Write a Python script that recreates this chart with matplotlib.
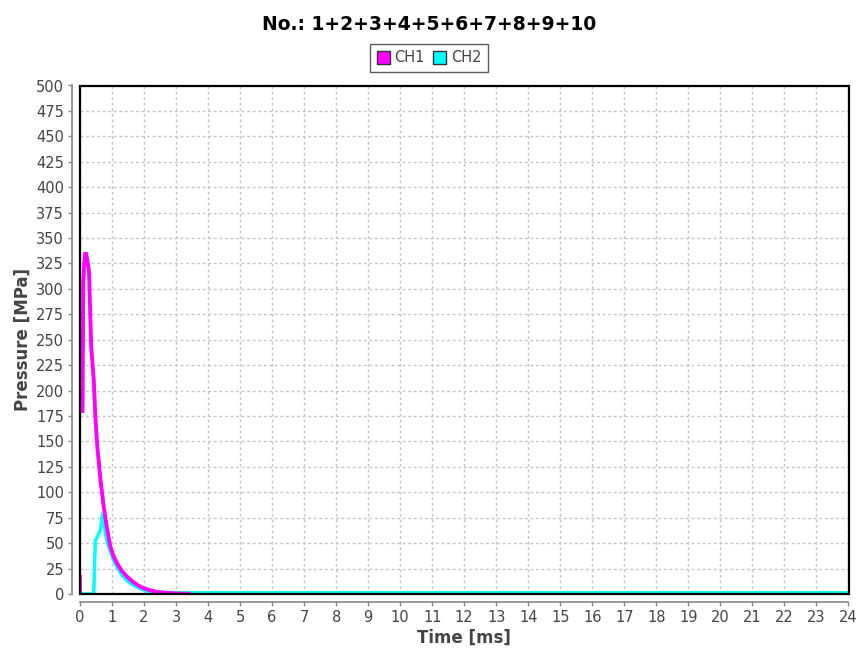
import matplotlib
matplotlib.use("Agg")
import matplotlib.pyplot as plt
from matplotlib.patches import Rectangle, Patch
import numpy as np

# ---- data ----
ch1_t = [0.0, 0.0, 0.04, 0.08, 0.10, 0.13, 0.17, 0.22, 0.28, 0.35, 0.43, 0.48, 0.54,
         0.64, 0.74, 0.85, 0.95, 1.05, 1.16, 1.30, 1.47, 1.65, 1.89, 2.10, 2.41,
         2.70, 3.00, 3.40]
ch1_p = [17, 0, np.nan, 180, 305, 325, 336, 330, 318, 243, 210, 174, 145,
         112, 86, 63, 46.5, 37, 30, 23, 17, 12, 7, 4.5, 2,
         1.2, 0.5, 0.2]
ch2_t = [0.0, 0.43, 0.46, 0.48, 0.54, 0.60, 0.64, 0.69, 0.74, 0.80, 0.88, 0.95,
         1.05, 1.16, 1.30, 1.47, 1.65, 1.89, 2.10, 2.41, 2.80, 3.40, 6.0, 24.0]
ch2_p = [0, 0, 35, 53, 56, 60, 63, 76, 73, 58, 48, 42,
         33, 26, 19, 13, 9, 5, 3, 1.8, 1.4, 1.2, 1.2, 1.2]
series_names = ["CH1", "CH2"]
x_ticks = list(range(0, 25))
y_ticks = list(range(0, 501, 25))
title = "No.: 1+2+3+4+5+6+7+8+9+10"

W, H = 859, 653
fig = plt.figure(figsize=(W / 100, H / 100), dpi=100)
fig.patch.set_facecolor("white")

left, right, top, bottom = 80, 848.5, 85.5, 594
ax = fig.add_axes([left / W, (H - bottom) / H, (right - left) / W, (bottom - top) / H])
ax.set_facecolor("white")

ax.plot(ch2_t, ch2_p, color="#00ffff", lw=2.5, zorder=3, solid_joinstyle="miter")
ax.plot(ch1_t, ch1_p, color="#ff00ff", lw=2.8, zorder=4, solid_joinstyle="miter")

ax.set_xlim(0, 24)
ax.set_ylim(0, 500)
ax.set_xticks(x_ticks)
ax.set_yticks(y_ticks)

ax.grid(True, color="#c4c4c4", linestyle=(0, (2, 2)), linewidth=1.0, zorder=0)
ax.set_axisbelow(True)

gray = "#888888"
for s in ["top", "right"]:
    ax.spines[s].set_visible(False)
for s in ["left", "bottom"]:
    ax.spines[s].set_position(("outward", 5.5))
    ax.spines[s].set_color(gray)
    ax.spines[s].set_linewidth(1.2)

ax.tick_params(axis="both", direction="out", length=3, width=1, color=gray,
               labelsize=10.5, labelcolor="#444444", pad=3)

# plot outline
ax.add_patch(Rectangle((0, 0), 1, 1, transform=ax.transAxes, fill=False,
                       edgecolor="black", lw=1.6, zorder=10, clip_on=False))

ax.set_xlabel("Time [ms]", fontsize=12, fontweight="bold", color="#444444", labelpad=3)
ax.set_ylabel("Pressure [MPa]", fontsize=12, fontweight="bold", color="#444444", labelpad=3)

fig.text(429.5 / W, 1 - 25 / H, title, ha="center", va="center",
         fontsize=13.5, fontweight="bold", color="black")

handles = [Patch(facecolor="#ff00ff", edgecolor="#333333", label=series_names[0]),
           Patch(facecolor="#00ffff", edgecolor="#333333", label=series_names[1])]
leg = fig.legend(handles=handles, loc="center", bbox_to_anchor=(429 / W, 1 - 58 / H),
                 ncol=2, frameon=True, fancybox=False, fontsize=10.5,
                 handlelength=0.9, handleheight=0.9, handletextpad=0.3,
                 columnspacing=0.6, borderpad=0.45, borderaxespad=0)
leg.get_frame().set_edgecolor("#333333")
leg.get_frame().set_linewidth(1.0)
for t in leg.get_texts():
    t.set_color("#444444")

fig.savefig("out.png", dpi=100, facecolor="white")
